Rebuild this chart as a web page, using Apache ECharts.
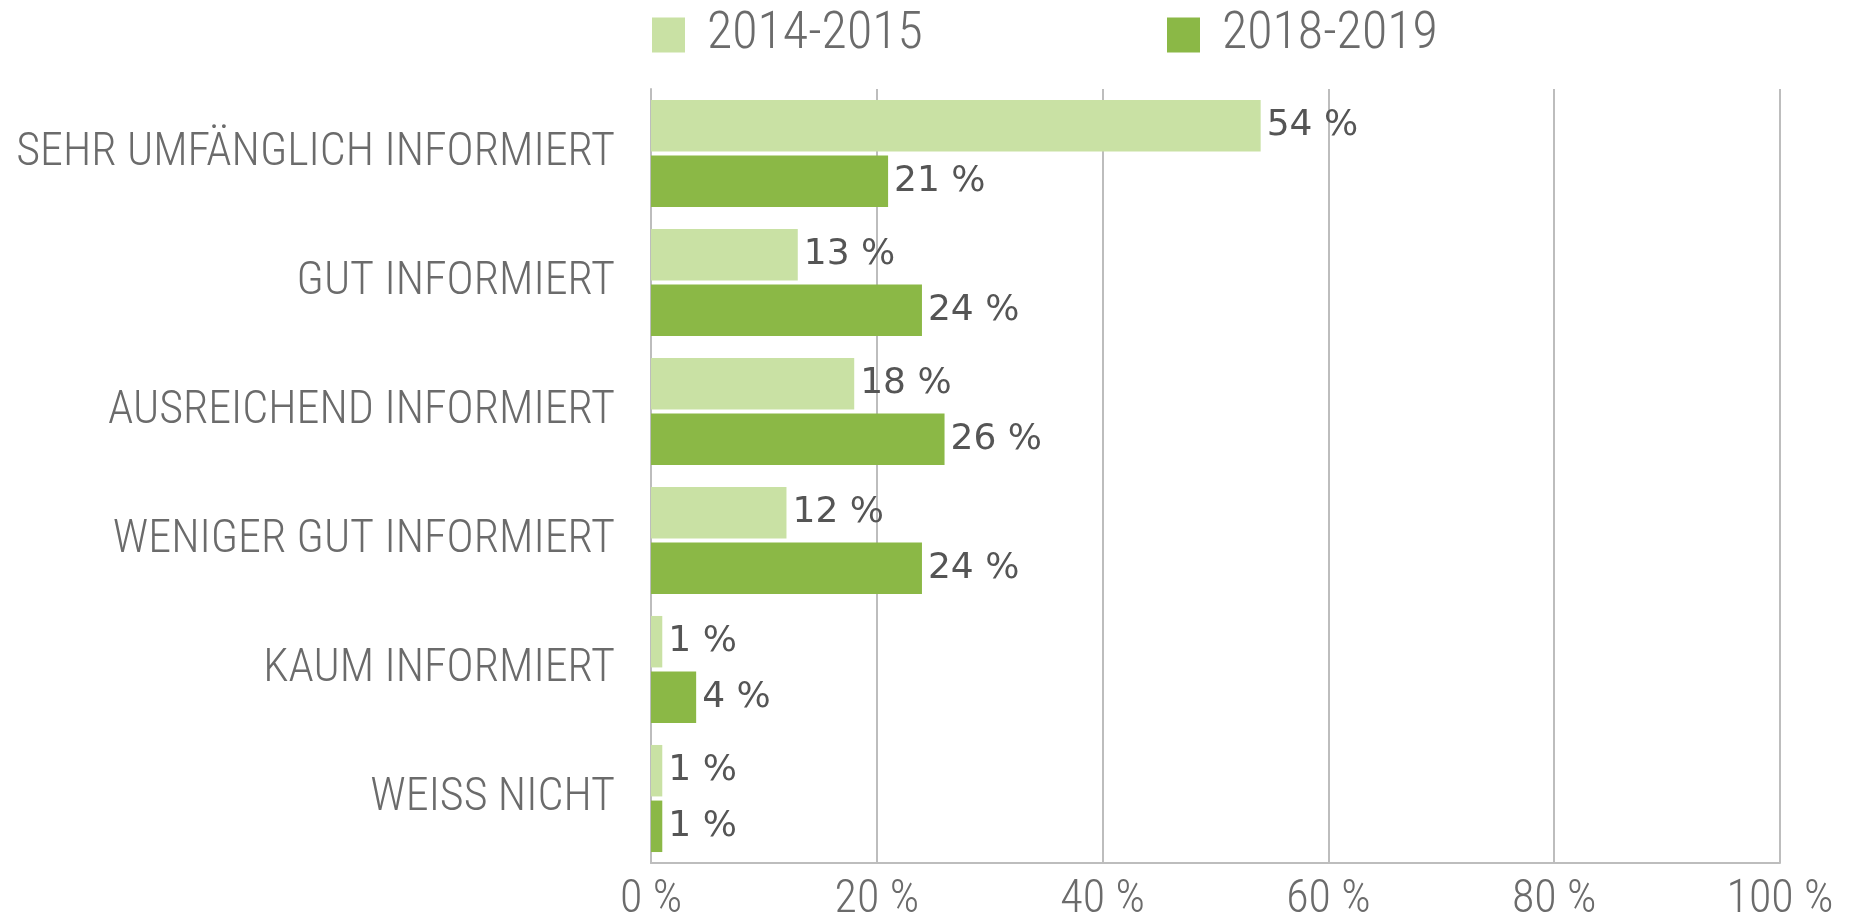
<!DOCTYPE html>
<html>
<head>
<meta charset="utf-8">
<title>Informiertheit</title>
<script src="https://cdn.jsdelivr.net/npm/echarts@6/dist/echarts.min.js"></script>
<style>
  html, body { margin: 0; padding: 0; background: #fff; }
  #chart { width: 1858px; height: 916px; }
</style>
</head>
<body>
<div id="chart"></div>
<script>
const categories = [
  'SEHR UMFÄNGLICH INFORMIERT',
  'GUT INFORMIERT',
  'AUSREICHEND INFORMIERT',
  'WENIGER GUT INFORMIERT',
  'KAUM INFORMIERT',
  'WEISS NICHT'
]
const seriesNames = ['2014-2015', '2018-2019']
const values2014 = [54, 13, 18, 12, 1, 1]
const values2018 = [21, 24, 26, 24, 4, 1]
const xTicks = [0, 20, 40, 60, 80, 100]

const narrow = '"Liberation Sans Narrow", "Roboto Condensed", "DejaVu Sans Condensed", sans-serif'
const gridColor = '#bdbdbd'
const textColor = '#6b6b6b'

const chart = echarts.init(document.getElementById('chart'))

const labelStyle = {
  show: true,
  position: 'right',
  distance: 6,
  formatter: p => p.value + ' %',
  fontFamily: '"DejaVu Sans", Verdana, sans-serif',
  fontSize: 36,
  color: '#555'
}

const legendBase = {
  top: 4,
  itemWidth: 33,
  itemHeight: 35,
  icon: 'rect',
  textStyle: { fontFamily: narrow, fontSize: 52, fontWeight: 300, color: textColor, padding: [0, 0, 0, 17] }
}

chart.setOption({
  animation: false,
  legend: [
    Object.assign({}, legendBase, { left: 647, data: [seriesNames[0]] }),
    Object.assign({}, legendBase, { left: 1162, data: [seriesNames[1]] })
  ],
  grid: { left: 651, right: 78, top: 89, bottom: 53, containLabel: false, outerBoundsMode: 'none' },
  xAxis: {
    type: 'value',
    min: xTicks[0],
    max: xTicks[xTicks.length - 1],
    interval: 20,
    axisLine: { show: true, lineStyle: { color: gridColor, width: 2 } },
    axisTick: { show: false },
    splitLine: { show: true, lineStyle: { color: gridColor, width: 2 } },
    axisLabel: {
      formatter: '{value} %',
      fontFamily: narrow,
      fontSize: 46,
      fontWeight: 300,
      color: textColor,
      margin: 14
    }
  },
  yAxis: {
    type: 'category',
    inverse: true,
    data: categories,
    axisLine: { show: true, lineStyle: { color: gridColor, width: 2 } },
    axisTick: { show: false },
    axisLabel: {
      fontFamily: narrow,
      fontSize: 46,
      fontWeight: 300,
      color: textColor,
      margin: 36
    }
  },
  series: [
    {
      name: seriesNames[0],
      type: 'bar',
      data: values2014,
      itemStyle: { color: '#c9e1a4' },
      barGap: '8%',
      barCategoryGap: '17%',
      label: labelStyle
    },
    {
      name: seriesNames[1],
      type: 'bar',
      data: values2018,
      itemStyle: { color: '#8bb846' },
      label: labelStyle
    }
  ]
})
</script>
</body>
</html>
